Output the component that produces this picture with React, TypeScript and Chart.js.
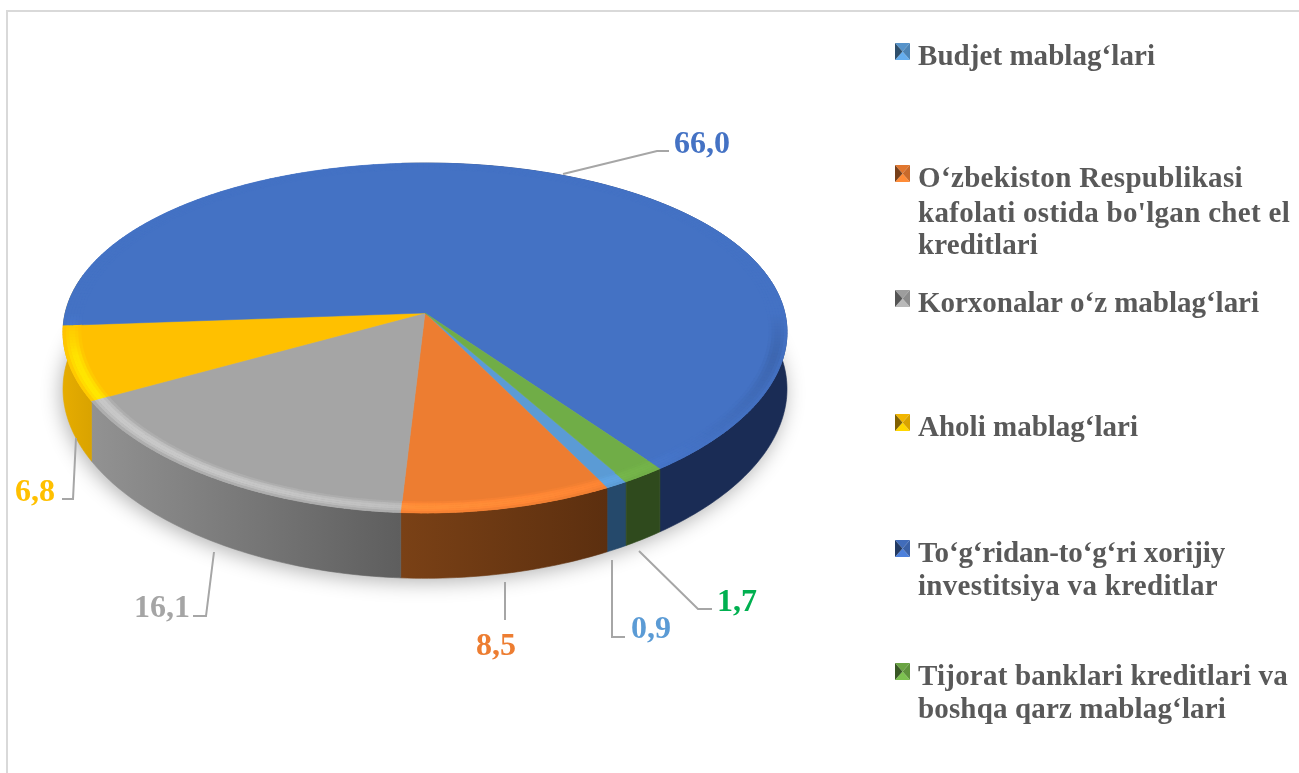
import React, { useEffect, useRef } from "react";
import { Chart, registerables } from "chart.js";

Chart.register(...registerables);

// ---------- data ----------
const categories = [
  "Budjet mablag‘lari",
  "O‘zbekiston Respublikasi kafolati ostida bo'lgan chet el kreditlari",
  "Korxonalar o‘z mablag‘lari",
  "Aholi mablag‘lari",
  "To‘g‘ridan-to‘g‘ri xorijiy investitsiya va kreditlar",
  "Tijorat banklari kreditlari va boshqa qarz mablag‘lari",
];
const values = [0.9, 8.5, 16.1, 6.8, 66.0, 1.7];
const valueLabels = ["0,9", "8,5", "16,1", "6,8", "66,0", "1,7"];
const legendLines = [
  ["Budjet mablag‘lari"],
  ["O‘zbekiston Respublikasi", "kafolati ostida bo'lgan chet el", "kreditlari"],
  ["Korxonalar o‘z mablag‘lari"],
  ["Aholi mablag‘lari"],
  ["To‘g‘ridan-to‘g‘ri xorijiy", "investitsiya va kreditlar"],
  ["Tijorat banklari kreditlari va", "boshqa qarz mablag‘lari"],
];

// ---------- styles ----------
const topColors = ["#5B9BD5", "#ED7D31", "#A5A5A5", "#FFC000", "#4472C4", "#70AD47"];
const sideLeft = ["#25496B", "#7A4116", "#929292", "#E6AC00", "#1A2C55", "#2F4A1D"];
const sideRight = ["#25496B", "#5C2F0F", "#5E5E5E", "#D9A300", "#1A2C55", "#2F4A1D"];
const labelColors = ["#5B9BD5", "#ED7D31", "#A5A5A5", "#FFC000", "#4472C4", "#00B050"];
const labelPos = [[631, 638], [476, 655], [134, 617], [15, 501], [674, 153], [717, 611]];
const leaders = [
  [[612, 560], [612, 637], [625, 637]],
  [[505, 582], [505, 620]],
  [[214, 552], [206, 616], [193, 616]],
  [[76, 438], [73, 499], [62, 499]],
  [[563, 174], [657, 151], [669, 151]],
  [[639, 551], [698, 609], [712, 609]],
];
const legendBaselines = [[65], [187, 222, 254], [312], [436], [562, 595], [685, 718]];
const legendEnds = [[1155], [1243, 1290, 1038], [1259], [1138], [1225, 1218], [1288, 1226]];
const LEGEND_X = 918;
const MARKER_X = 895;
const LEGEND_FONT = "bold 29px 'Liberation Serif'";
const LABEL_FONT = "bold 32px 'Liberation Serif'";

// perspective of the pie disc
const CX = 425;
const CY = 313;
const R = 359.8;
const B = 171.4;
const KX = -0.11;
const KY = -1 / 7;
const DEPTH = 56;
const STEP = Math.PI / 180;

const project = (a: number, r: number, drop = 0) => {
  const u = Math.cos(a) * r;
  const v = Math.sin(a) * r;
  const wx = 1 + KX * v;
  const wy = 1 + KY * v;
  return [CX + (R * u) / wx, CY + (B * v) / wy + drop / wy];
};

const angleSteps = (start: number, end: number) => {
  const n = Math.max(2, Math.ceil((end - start) / STEP));
  return Array.from({ length: n + 1 }, (_, i) => start + ((end - start) * i) / n);
};

const hexRgb = (hex: string) => [1, 3, 5].map((i) => parseInt(hex.slice(i, i + 2), 16));
const shade = (hex: string, f: number) => {
  const c = hexRgb(hex).map((x) => Math.max(0, Math.min(255, Math.round(x * f))));
  return `rgb(${c[0]},${c[1]},${c[2]})`;
};
const atLeftSilhouette = (a: number) => Math.cos(a) < 0 && Math.abs(Math.sin(a)) < 0.2;

const pie3d = {
  id: "pie3d",
  beforeDatasetDraw(chart: any) {
    const ctx: CanvasRenderingContext2D = chart.ctx;
    const arcs = chart.getDatasetMeta(0).data;
    const outline = (path: number[][]) => {
      ctx.beginPath();
      path.forEach((p, i) => (i ? ctx.lineTo(p[0], p[1]) : ctx.moveTo(p[0], p[1])));
      ctx.closePath();
    };

    // soft shadow under the base
    ctx.save();
    ctx.shadowColor = "rgba(0,0,0,0.3)";
    ctx.shadowBlur = 20;
    ctx.shadowOffsetX = -2;
    ctx.shadowOffsetY = 5;
    ctx.fillStyle = "#C8C8C8";
    outline(angleSteps(0, Math.PI * 2).map((a) => project(a, 1, DEPTH - 1)));
    ctx.fill();
    ctx.restore();

    // walls: the wall ending at the left silhouette carries on round it,
    // and the wall starting there only begins at the hidden back
    arcs.forEach((arc: any, i: number) => {
      const start = arc.startAngle + (atLeftSilhouette(arc.startAngle) ? Math.PI / 2 : 0);
      const end = arc.endAngle + (atLeftSilhouette(arc.endAngle) ? 0.3 : 0);
      const as = angleSteps(start, end);
      const rim = as.map((a) => project(a, 1));
      const base = as.map((a) => project(a, 1, DEPTH)).reverse();
      const xs = rim.map((p) => p[0]);
      const g = ctx.createLinearGradient(Math.min(...xs), 0, Math.max(...xs), 0);
      g.addColorStop(0, sideLeft[i]);
      g.addColorStop(1, sideRight[i]);
      ctx.fillStyle = g;
      ctx.strokeStyle = g;
      ctx.lineWidth = 0.6;
      outline([...rim, ...base]);
      ctx.fill();
      ctx.stroke();
    });

    // top faces
    arcs.forEach((arc: any) => {
      const as = angleSteps(arc.startAngle, arc.endAngle);
      ctx.fillStyle = arc.options.backgroundColor;
      ctx.strokeStyle = arc.options.backgroundColor;
      ctx.lineWidth = 0.5;
      outline([[CX, CY], ...as.map((a) => project(a, 1))]);
      ctx.fill();
      ctx.stroke();
    });

    // bevel along the rim of the top faces (front part only)
    const bands = 6;
    const width = 0.05;
    arcs.forEach((arc: any) => {
      const as = angleSteps(arc.startAngle, arc.endAngle);
      for (let s = 0; s < as.length - 1; s++) {
        const mid = (as[s] + as[s + 1]) / 2;
        const front = Math.max(0, Math.min(1, Math.sin(mid) * 4));
        let k = Math.cos(mid - (135 * Math.PI) / 180) * 0.22 * front;
        if (k < 0) k *= 0.9;
        for (let b = 0; b < bands; b++) {
          const r0 = 1 - width + (width * b) / bands;
          const r1 = 1 - width + (width * (b + 1)) / bands;
          const bump = Math.sin((Math.PI * (b + 0.5)) / bands);
          ctx.fillStyle = shade(arc.options.backgroundColor, 1 + k * bump);
          outline([project(as[s], r0), project(as[s + 1] + 0.003, r0), project(as[s + 1] + 0.003, r1 + 0.001), project(as[s], r1 + 0.001)]);
          ctx.fill();
        }
      }
    });
    return false;
  },
  afterDraw(chart: any) {
    const ctx: CanvasRenderingContext2D = chart.ctx;
    ctx.save();

    // frame
    ctx.strokeStyle = "#D9D9D9";
    ctx.lineWidth = 2;
    ctx.beginPath();
    ctx.moveTo(7, 773);
    ctx.lineTo(7, 11);
    ctx.lineTo(1299, 11);
    ctx.stroke();

    // leader lines
    ctx.strokeStyle = "#A6A6A6";
    ctx.lineWidth = 2;
    leaders.forEach((line) => {
      ctx.beginPath();
      line.forEach((p, i) => (i ? ctx.lineTo(p[0], p[1]) : ctx.moveTo(p[0], p[1])));
      ctx.stroke();
    });

    // value labels
    ctx.font = LABEL_FONT;
    ctx.textBaseline = "alphabetic";
    ctx.textAlign = "left";
    valueLabels.forEach((t, i) => {
      ctx.fillStyle = labelColors[i];
      ctx.fillText(t, labelPos[i][0], labelPos[i][1]);
    });

    // legend
    legendLines.forEach((lines, i) => {
      const top = legendBaselines[i][0] - 22;
      const x = MARKER_X;
      const w = 15;
      const h = 17;
      const c = topColors[i];
      const tri = (pts: number[][], col: string) => {
        ctx.fillStyle = col;
        ctx.beginPath();
        pts.forEach((p, j) => (j ? ctx.lineTo(p[0], p[1]) : ctx.moveTo(p[0], p[1])));
        ctx.closePath();
        ctx.fill();
      };
      const m = [x + w / 2, top + h / 2];
      tri([[x, top], [x + w, top], m], shade(c, 0.95));
      tri([[x, top + h], [x + w, top + h], m], shade(c, 1.12));
      tri([[x, top], [x, top + h], m], shade(c, 0.5));
      tri([[x + w, top], [x + w, top + h], m], shade(c, 0.85));

      ctx.font = LEGEND_FONT;
      ctx.fillStyle = "#595959";
      lines.forEach((t, j) => {
        (ctx as any).letterSpacing = "0px";
        const natural = ctx.measureText(t).width;
        const extra = (legendEnds[i][j] - LEGEND_X - natural) / t.length;
        (ctx as any).letterSpacing = `${extra.toFixed(3)}px`;
        ctx.fillText(t, LEGEND_X, legendBaselines[i][j]);
        (ctx as any).letterSpacing = "0px";
      });
    });
    ctx.restore();
  },
};

export default function App() {
  const ref = useRef<HTMLCanvasElement>(null);
  useEffect(() => {
    const chart = new Chart(ref.current!, {
      type: "pie",
      data: {
        labels: categories,
        datasets: [{ data: values, backgroundColor: topColors, borderWidth: 0 }],
      },
      options: {
        responsive: false,
        animation: false,
        rotation: 149.6,
        plugins: { legend: { display: false }, tooltip: { enabled: false } },
      },
      plugins: [pie3d],
    } as any);
    return () => chart.destroy();
  }, []);
  return (
    <div style={{ position: "fixed", left: 0, top: 0, width: 1299, height: 773, background: "#fff", overflow: "hidden" }}>
      <canvas ref={ref} width={1299} height={773} style={{ display: "block", filter: "blur(0.5px)" }} />
    </div>
  );
}
